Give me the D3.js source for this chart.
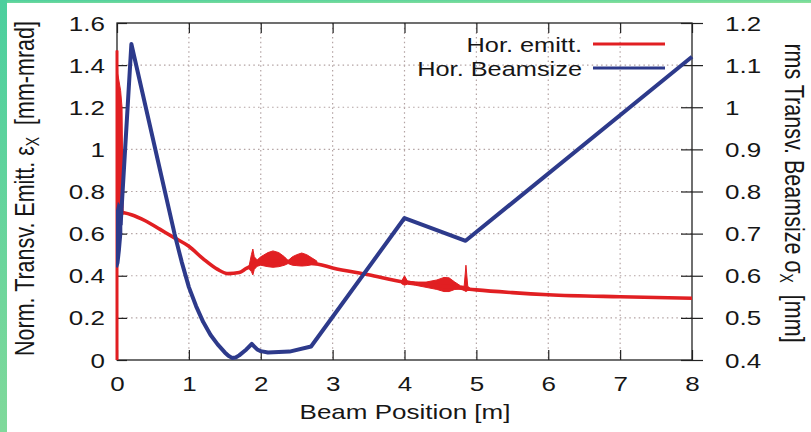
<!DOCTYPE html>
<html>
<head>
<meta charset="utf-8">
<script src="https://cdn.jsdelivr.net/npm/d3@7/dist/d3.min.js"></script>
<style>
  html, body { margin: 0; padding: 0; background: #fff; }
  svg { display: block; }
  text { font-family: "Liberation Sans", Arial, sans-serif; fill: #161616; white-space: pre; }
</style>
</head>
<body>
<svg id="chart" width="811" height="432"></svg>
<script>
// ---- data ----
// horizontal emittance (left axis, mm-mrad)
const emitX = [0.08, 0.2, 0.4, 0.6, 0.8, 1.0, 1.2, 1.4, 1.55, 1.7, 1.8, 1.9, 2.2, 2.5, 2.8, 3.0, 3.5, 4.0, 4.5, 5.0, 5.5, 6.0, 7.0, 8.0];
const emitY = [0.70, 0.69, 0.66, 0.62, 0.58, 0.54, 0.48, 0.43, 0.41, 0.415, 0.435, 0.45, 0.47, 0.465, 0.455, 0.437, 0.405, 0.37, 0.352, 0.333, 0.32, 0.31, 0.30, 0.293];
// emittance near the cathode: vertical rise and oscillating envelope
const emitStartX  = [0, 0.01, 0.03, 0.05, 0.07, 0.085];
const emitStartHi = [1.47, 1.36, 1.32, 1.28, 1.2, 0.72];
const emitStartLo = [0, 0.62, 0.68, 0.69, 0.69, 0.69];
// oscillation envelopes of the emittance
const burst1X  = [1.84, 1.87, 1.89, 1.91, 1.95, 2.0, 2.1, 2.17, 2.25, 2.33, 2.38, 2.44, 2.5, 2.57, 2.64, 2.71, 2.78];
const burst1Hi = [0.45, 0.50, 0.527, 0.49, 0.475, 0.49, 0.51, 0.518, 0.51, 0.49, 0.472, 0.49, 0.50, 0.508, 0.50, 0.485, 0.47];
const burst1Lo = [0.43, 0.42, 0.404, 0.43, 0.445, 0.45, 0.443, 0.44, 0.443, 0.45, 0.458, 0.45, 0.448, 0.446, 0.448, 0.452, 0.452];
const burst2X  = [3.96, 4.0, 4.04, 4.15, 4.3, 4.45, 4.55, 4.62, 4.7, 4.78, 4.83, 4.855, 4.88, 4.92];
const burst2Hi = [0.375, 0.40, 0.375, 0.37, 0.37, 0.38, 0.392, 0.39, 0.37, 0.352, 0.35, 0.45, 0.35, 0.338];
const burst2Lo = [0.362, 0.355, 0.36, 0.355, 0.345, 0.335, 0.325, 0.325, 0.335, 0.338, 0.33, 0.325, 0.33, 0.33];

// horizontal rms beam size (right axis, mm)
const sizeX = [0.05, 0.2, 0.4, 0.6, 0.8, 0.9, 1.0, 1.1, 1.2, 1.3, 1.4, 1.5, 1.55, 1.6, 1.65, 1.7, 1.8, 1.875, 1.95, 2.0, 2.1, 2.4, 2.7, 4.0, 4.85, 8.0];
const sizeY = [0.72, 1.15, 1.0, 0.85, 0.70, 0.633, 0.573, 0.528, 0.49, 0.46, 0.437, 0.418, 0.41, 0.405, 0.406, 0.411, 0.425, 0.438, 0.425, 0.421, 0.418, 0.42, 0.432, 0.737, 0.683, 1.12];
const sizeStartX  = [0, 0.02, 0.04, 0.06];
const sizeStartHi = [0.755, 0.77, 0.765, 0.76];
const sizeStartLo = [0.62, 0.63, 0.66, 0.70];

// axis ticks
const xTicks = [0, 1, 2, 3, 4, 5, 6, 7, 8];
const leftTicks = [0, 0.2, 0.4, 0.6, 0.8, 1, 1.2, 1.4, 1.6];
const rightTicks = [0.4, 0.5, 0.6, 0.7, 0.8, 0.9, 1, 1.1, 1.2];

const seriesNames = ["Hor. emitt.", "Hor. Beamsize"];
const seriesColors = ["#e11f22", "#2d3a8b"];

// ---- layout ----
const W = 811, H = 432;
const plot = { left: 117, right: 692, top: 23, bottom: 360 };
const SX = 1.3; // horizontal stretch of the lettering

const svg = d3.select("#chart");

// teal frame along the page edges
const defs = svg.append("defs");
const grad = defs.append("linearGradient").attr("id", "edge").attr("x1", 0).attr("y1", 0).attr("x2", 1).attr("y2", 1);
grad.append("stop").attr("offset", "0%").attr("stop-color", "#4ccf9e");
grad.append("stop").attr("offset", "100%").attr("stop-color", "#90e29a");
const gradV = defs.append("linearGradient").attr("id", "edgeV").attr("x1", 0).attr("y1", 0).attr("x2", 0).attr("y2", 1);
gradV.append("stop").attr("offset", "0%").attr("stop-color", "#4ccf9e");
gradV.append("stop").attr("offset", "100%").attr("stop-color", "#80d99b");
svg.append("rect").attr("x", 0).attr("y", 0).attr("width", W).attr("height", 3).attr("fill", "url(#edge)");
svg.append("rect").attr("x", 0).attr("y", 0).attr("width", 7).attr("height", H).attr("fill", "url(#edgeV)");

// ---- scales ----
const x = d3.scaleLinear().domain([0, 8]).range([plot.left, plot.right]);
const yL = d3.scaleLinear().domain([0, 1.6]).range([plot.bottom, plot.top]);
const yR = d3.scaleLinear().domain([0.4, 1.2]).range([plot.bottom, plot.top]);

// ---- grid ----
const grid = svg.append("g").attr("stroke", "#b3a3a3").attr("stroke-width", 1.2).attr("stroke-dasharray", "1.5,3.2");
grid.selectAll("line.gx").data(xTicks.slice(1, -1)).join("line")
  .attr("x1", d => x(d)).attr("x2", d => x(d)).attr("y1", plot.top).attr("y2", plot.bottom);
grid.selectAll("line.gy").data(leftTicks.slice(1, -1)).join("line")
  .attr("y1", d => yL(d)).attr("y2", d => yL(d)).attr("x1", plot.left).attr("x2", plot.right);

// ---- axes ----
const fmt = d => String(d);
const tickFont = 20;

const gL = svg.append("g").attr("transform", `translate(${plot.left},0)`)
  .call(d3.axisLeft(yL).tickValues(leftTicks).tickFormat(fmt).tickSizeInner(-10).tickSizeOuter(0));
gL.selectAll("text").attr("x", -12 / SX).attr("dy", null).attr("y", 7)
  .attr("transform", `scale(${SX},1)`).style("font-size", tickFont + "px");

const gR = svg.append("g").attr("transform", `translate(${plot.right},0)`)
  .call(d3.axisRight(yR).tickValues(rightTicks).tickFormat(fmt).tickSizeOuter(0));
gR.selectAll(".tick line").attr("x1", -11).attr("x2", 11);
gR.selectAll("text").attr("x", 33 / SX).attr("dy", null).attr("y", 7)
  .attr("transform", `scale(${SX},1)`).style("font-size", tickFont + "px");

const gB = svg.append("g").attr("transform", `translate(0,${plot.bottom})`)
  .call(d3.axisBottom(x).tickValues(xTicks).tickFormat(fmt).tickSizeInner(-10).tickSizeOuter(0));
gB.selectAll("text").attr("dy", null).attr("y", 31)
  .attr("transform", `scale(${SX},1)`).style("font-size", tickFont + "px");

const gT = svg.append("g").attr("transform", `translate(0,${plot.top})`)
  .call(d3.axisTop(x).tickValues(xTicks).tickFormat("").tickSizeInner(-10).tickSizeOuter(0));

[gL, gR, gB, gT].forEach(g => {
  g.select(".domain").remove();
  g.attr("font-family", null).attr("font-size", null);
  g.selectAll(".tick line").attr("stroke", "#222").attr("stroke-width", 1.2);
});

// plot frame
svg.append("rect")
  .attr("x", plot.left).attr("y", plot.top)
  .attr("width", plot.right - plot.left).attr("height", plot.bottom - plot.top)
  .attr("fill", "none").attr("stroke", "#222").attr("stroke-width", 1.3);

// ---- curves ----
const zip = (xs, ys) => xs.map((v, i) => [v, ys[i]]);
const band = (xs, hi, lo) => xs.map((v, i) => ({ x: v, hi: hi[i], lo: lo[i] }));

// emittance
const lineL = d3.line().x(d => x(d[0])).y(d => yL(d[1])).curve(d3.curveMonotoneX);
const areaL = d3.area().x(d => x(d.x)).y0(d => yL(d.lo)).y1(d => yL(d.hi));
const red = seriesColors[0];
svg.append("line").attr("x1", x(0)).attr("x2", x(0)).attr("y1", yL(0)).attr("y2", yL(emitStartHi[0]))
  .attr("stroke", red).attr("stroke-width", 3);
[band(emitStartX, emitStartHi, emitStartLo), band(burst1X, burst1Hi, burst1Lo), band(burst2X, burst2Hi, burst2Lo)]
  .forEach(b => svg.append("path").attr("d", areaL(b)).attr("fill", red).attr("stroke", red).attr("stroke-width", 1));
svg.append("path").attr("d", lineL(zip(emitX, emitY)))
  .attr("fill", "none").attr("stroke", red).attr("stroke-width", 3.6).attr("stroke-linejoin", "round");

// beam size
const blue = seriesColors[1];
const lineR = d3.line().x(d => x(d[0])).y(d => yR(d[1]));
const areaR = d3.area().x(d => x(d.x)).y0(d => yR(d.lo)).y1(d => yR(d.hi));
svg.append("path").attr("d", areaR(band(sizeStartX, sizeStartHi, sizeStartLo)))
  .attr("fill", blue).attr("stroke", blue).attr("stroke-width", 2);
svg.append("path").attr("d", lineR(zip(sizeX, sizeY)))
  .attr("fill", "none").attr("stroke", blue).attr("stroke-width", 4).attr("stroke-linejoin", "round");

// ---- legend ----
const legend = svg.append("g");
seriesNames.forEach((name, i) => {
  const yy = 44 + i * 24;
  legend.append("line").attr("x1", 593).attr("x2", 665).attr("y1", yy).attr("y2", yy)
    .attr("stroke", seriesColors[i]).attr("stroke-width", 3);
  legend.append("text").attr("text-anchor", "end")
    .attr("transform", `translate(582,${yy + 7.5}) scale(${SX},1)`)
    .style("font-size", "19.5px").text(name);
});

// ---- axis titles ----
svg.append("text").attr("text-anchor", "middle")
  .attr("transform", `translate(405,419) scale(${SX},1)`)
  .style("font-size", "20px").text("Beam Position [m]");

const tl = svg.append("text").attr("text-anchor", "middle")
  .attr("transform", `translate(34,188.5) scale(${SX},1) rotate(-90)`)
  .style("font-size", "21.5px");
tl.append("tspan").text("Norm. Transv. Emitt. ε");
tl.append("tspan").attr("dy", 4).style("font-size", "14px").text("X");
tl.append("tspan").attr("dy", -4).text("  [mm-mrad]");

const tr = svg.append("text").attr("text-anchor", "middle")
  .attr("transform", `translate(785,193) scale(${SX},1) rotate(90)`)
  .style("font-size", "21.5px");
tr.append("tspan").text("rms Transv. Beamsize σ");
tr.append("tspan").attr("dy", 4).style("font-size", "14px").text("X");
tr.append("tspan").attr("dy", -4).text("  [mm]");
</script>
</body>
</html>
